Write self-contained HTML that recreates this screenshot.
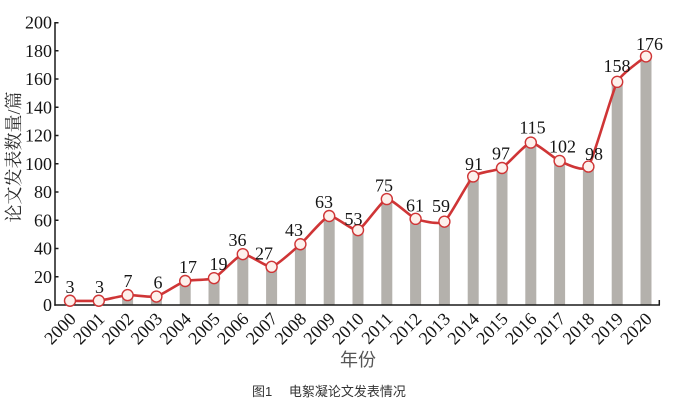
<!DOCTYPE html>
<html>
<head>
<meta charset="utf-8">
<style>
  html,body{margin:0;padding:0;background:#fff;}
  svg{display:block;}
  .num{font-family:"Liberation Serif","Noto Serif CJK SC",serif;font-size:18px;fill:#151515;}
</style>
</head>
<body>
<svg width="681" height="418" viewBox="0 0 681 418" xmlns="http://www.w3.org/2000/svg">
  <rect width="681" height="418" fill="#fff"/>

  <!-- bars -->
  <g fill="#b4b1ac">
    <rect x="64.5" y="300.76" width="11" height="4.24"/>
    <rect x="93.3" y="300.76" width="11" height="4.24"/>
    <rect x="122.1" y="295.11" width="11" height="9.89"/>
    <rect x="150.9" y="296.53" width="11" height="8.47"/>
    <rect x="179.7" y="280.99" width="11" height="24.01"/>
    <rect x="208.5" y="278.16" width="11" height="26.84"/>
    <rect x="237.3" y="254.15" width="11" height="50.85"/>
    <rect x="266.1" y="266.86" width="11" height="38.14"/>
    <rect x="294.9" y="244.26" width="11" height="60.74"/>
    <rect x="323.7" y="216.01" width="11" height="88.99"/>
    <rect x="352.5" y="230.14" width="11" height="74.86"/>
    <rect x="381.3" y="199.06" width="11" height="105.94"/>
    <rect x="410.1" y="218.84" width="11" height="86.16"/>
    <rect x="438.9" y="221.66" width="11" height="83.34"/>
    <rect x="467.7" y="176.46" width="11" height="128.54"/>
    <rect x="496.5" y="167.99" width="11" height="137.01"/>
    <rect x="525.3" y="142.56" width="11" height="162.44"/>
    <rect x="554.1" y="160.93" width="11" height="144.07"/>
    <rect x="582.9" y="166.58" width="11" height="138.42"/>
    <rect x="611.7" y="81.83" width="11" height="223.17"/>
    <rect x="640.5" y="56.40" width="11" height="248.60"/>
  </g>

  <!-- axes -->
  <g stroke="#1a1a1a" stroke-width="1.5" fill="none">
    <line x1="55" y1="22" x2="55" y2="305.7"/>
    <line x1="54.3" y1="305" x2="660" y2="305"/>
    <line x1="659.3" y1="305" x2="659.3" y2="300"/>
    <line x1="55" y1="276.75" x2="58.5" y2="276.75"/>
    <line x1="55" y1="248.5" x2="58.5" y2="248.5"/>
    <line x1="55" y1="220.25" x2="58.5" y2="220.25"/>
    <line x1="55" y1="192" x2="58.5" y2="192"/>
    <line x1="55" y1="163.75" x2="58.5" y2="163.75"/>
    <line x1="55" y1="135.5" x2="58.5" y2="135.5"/>
    <line x1="55" y1="107.25" x2="58.5" y2="107.25"/>
    <line x1="55" y1="79" x2="58.5" y2="79"/>
    <line x1="55" y1="50.75" x2="58.5" y2="50.75"/>
    <line x1="55" y1="22.75" x2="58.5" y2="22.75"/>
  </g>

  <!-- y tick labels -->
  <g class="num" text-anchor="end">
    <text x="52" y="311">0</text>
    <text x="52" y="282.75">20</text>
    <text x="52" y="254.5">40</text>
    <text x="52" y="226.25">60</text>
    <text x="52" y="198">80</text>
    <text x="52" y="169.75">100</text>
    <text x="52" y="141.5">120</text>
    <text x="52" y="113.25">140</text>
    <text x="52" y="85">160</text>
    <text x="52" y="56.75">180</text>
    <text x="52" y="28.5">200</text>
  </g>

  <!-- y title -->
  <text transform="translate(20,157) rotate(-90)" text-anchor="middle" font-family="'Liberation Serif','Noto Serif CJK SC',serif" font-size="18" fill="#2a2a2a">论文发表数量/篇</text>

  <!-- x tick labels -->
  <g class="num" text-anchor="end">
    <text transform="translate(77,320) rotate(-45)">2000</text>
    <text transform="translate(105.8,320) rotate(-45)">2001</text>
    <text transform="translate(134.6,320) rotate(-45)">2002</text>
    <text transform="translate(163.4,320) rotate(-45)">2003</text>
    <text transform="translate(192.2,320) rotate(-45)">2004</text>
    <text transform="translate(221,320) rotate(-45)">2005</text>
    <text transform="translate(249.8,320) rotate(-45)">2006</text>
    <text transform="translate(278.6,320) rotate(-45)">2007</text>
    <text transform="translate(307.4,320) rotate(-45)">2008</text>
    <text transform="translate(336.2,320) rotate(-45)">2009</text>
    <text transform="translate(365,320) rotate(-45)">2010</text>
    <text transform="translate(393.8,320) rotate(-45)">2011</text>
    <text transform="translate(422.6,320) rotate(-45)">2012</text>
    <text transform="translate(451.4,320) rotate(-45)">2013</text>
    <text transform="translate(480.2,320) rotate(-45)">2014</text>
    <text transform="translate(509,320) rotate(-45)">2015</text>
    <text transform="translate(537.8,320) rotate(-45)">2016</text>
    <text transform="translate(566.6,320) rotate(-45)">2017</text>
    <text transform="translate(595.4,320) rotate(-45)">2018</text>
    <text transform="translate(624.2,320) rotate(-45)">2019</text>
    <text transform="translate(653,320) rotate(-45)">2020</text>
  </g>

  <!-- x title -->
  <text x="358" y="366" text-anchor="middle" font-family="'Liberation Sans','Noto Sans CJK SC',sans-serif" font-size="18" fill="#555">年份</text>

  <!-- line -->
  <path fill="none" stroke="#cf3536" stroke-width="2.6" stroke-linejoin="round" stroke-linecap="round"
    d="M70,300.76
       C72.4,300.76 94,301.23 98.8,300.76
       C103.6,300.29 122.8,295.46 127.6,295.11
       C132.4,294.76 151.6,297.71 156.4,296.53
       C161.2,295.35 180.4,282.52 185.2,280.99
       C190,279.46 209.2,280.40 214,278.16
       C218.8,275.92 238,255.09 242.8,254.15
       C247.6,253.21 266.8,267.68 271.6,266.86
       C276.4,266.04 295.6,248.50 300.4,244.26
       C305.2,240.02 324.4,217.19 329.2,216.01
       C334,214.83 353.2,231.55 358,230.14
       C362.8,228.73 382,200.00 386.8,199.06
       C391.6,198.12 410.8,216.96 415.6,218.84
       C420.4,220.72 439.6,225.19 444.4,221.66
       C449.2,218.13 468.4,180.93 473.2,176.46
       C478,171.99 497.2,170.82 502,167.99
       C506.8,165.16 526,143.15 530.8,142.56
       C535.6,141.97 554.8,158.93 559.6,160.93
       C564.4,162.93 583.6,173.17 588.4,166.58
       C593.2,159.99 612.4,91.01 617.2,81.83
       C622,72.65 643.6,58.52 646,56.40"/>

  <!-- markers -->
  <g fill="#fdf1ec" stroke="#cf3536" stroke-width="1.4">
    <circle cx="70" cy="300.76" r="5.5"/>
    <circle cx="98.8" cy="300.76" r="5.5"/>
    <circle cx="127.6" cy="295.11" r="5.5"/>
    <circle cx="156.4" cy="296.53" r="5.5"/>
    <circle cx="185.2" cy="280.99" r="5.5"/>
    <circle cx="214" cy="278.16" r="5.5"/>
    <circle cx="242.8" cy="254.15" r="5.5"/>
    <circle cx="271.6" cy="266.86" r="5.5"/>
    <circle cx="300.4" cy="244.26" r="5.5"/>
    <circle cx="329.2" cy="216.01" r="5.5"/>
    <circle cx="358" cy="230.14" r="5.5"/>
    <circle cx="386.8" cy="199.06" r="5.5"/>
    <circle cx="415.6" cy="218.84" r="5.5"/>
    <circle cx="444.4" cy="221.66" r="5.5"/>
    <circle cx="473.2" cy="176.46" r="5.5"/>
    <circle cx="502" cy="167.99" r="5.5"/>
    <circle cx="530.8" cy="142.56" r="5.5"/>
    <circle cx="559.6" cy="160.93" r="5.5"/>
    <circle cx="588.4" cy="166.58" r="5.5"/>
    <circle cx="617.2" cy="81.83" r="5.5"/>
    <circle cx="646" cy="56.40" r="5.5"/>
  </g>

  <!-- data labels -->
  <g class="num" text-anchor="middle">
    <text x="70" y="293">3</text>
    <text x="99.5" y="293">3</text>
    <text x="128" y="287">7</text>
    <text x="158" y="288.5">6</text>
    <text x="188" y="273">17</text>
    <text x="218.5" y="270">19</text>
    <text x="237.5" y="246">36</text>
    <text x="264" y="259.5">27</text>
    <text x="294" y="236">43</text>
    <text x="324" y="208">63</text>
    <text x="353.5" y="225">53</text>
    <text x="384" y="191.5">75</text>
    <text x="415" y="211.5">61</text>
    <text x="441" y="212">59</text>
    <text x="474" y="170">91</text>
    <text x="501" y="159.5">97</text>
    <text x="532.5" y="133.5">115</text>
    <text x="562.5" y="152.5">102</text>
    <text x="594" y="160">98</text>
    <text x="617" y="72">158</text>
    <text x="649.5" y="50">176</text>
  </g>

  <!-- caption -->
  <text x="252" y="396" font-family="'Liberation Sans','Noto Sans CJK SC',sans-serif" font-size="13" fill="#333" xml:space="preserve">图1　 电絮凝论文发表情况</text>
</svg>
</body>
</html>
